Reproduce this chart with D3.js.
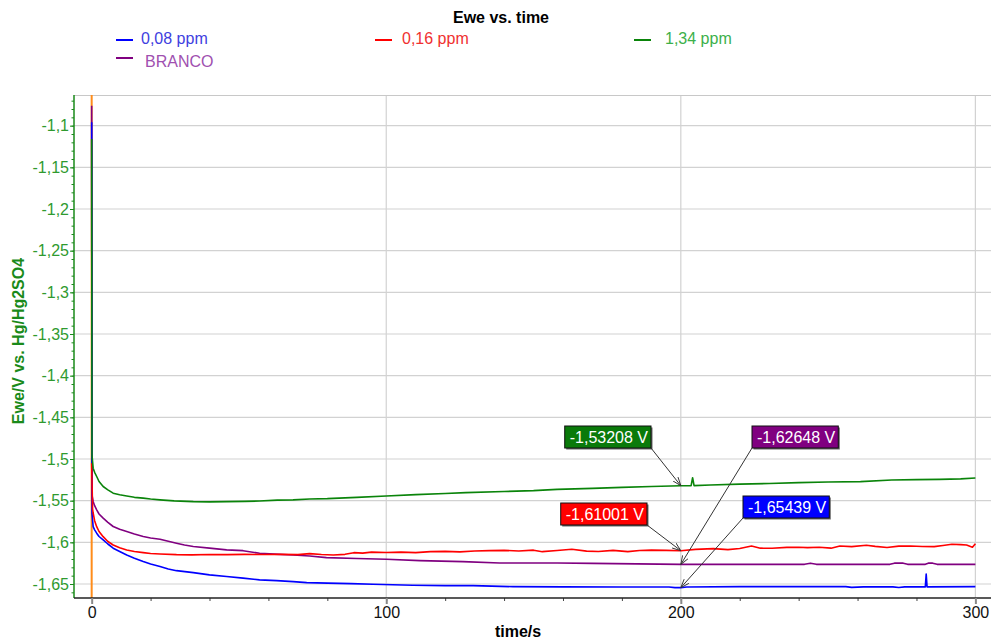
<!DOCTYPE html>
<html>
<head>
<meta charset="utf-8">
<script src="https://cdn.jsdelivr.net/npm/d3@7/dist/d3.min.js"></script>
<style>
  body { margin: 0; background: #fff; }
  svg { display: block; }
  text { font-family: "Liberation Sans", Arial, Helvetica, sans-serif; }
</style>
</head>
<body>
<svg id="chart" width="991" height="640"></svg>
<script>
// ---- chart text ----
const chartTitle = "Ewe vs. time";
const xTitle = "time/s";
const yTitle = "Ewe/V vs. Hg/Hg2SO4";

// ---- axis ticks ----
const xTicks = [0, 100, 200, 300];
const xTickLabels = ["0", "100", "200", "300"];
const yTicks = [-1.1, -1.15, -1.2, -1.25, -1.3, -1.35, -1.4, -1.45, -1.5, -1.55, -1.6, -1.65];
const yTickLabels = ["-1,1", "-1,15", "-1,2", "-1,25", "-1,3", "-1,35", "-1,4", "-1,45", "-1,5", "-1,55", "-1,6", "-1,65"];

// ---- series: 0,08 ppm ----
const blueTime = [0, 0.1, 0.5, 1, 1.7, 2.5, 3.9, 5.5, 7.3, 9.5, 11.9, 14.5, 17.5, 20, 23.2, 26, 28.8, 34.5, 40, 45.8, 51.4, 57, 62.8, 68.4, 73, 80, 88, 95.5, 109, 120, 129.5, 143, 160, 180, 196, 198, 200, 202, 220, 240, 256, 258, 262, 272, 274, 276, 283, 283.3, 283.6, 300];
const blueVolt = [-1.096, -1.565, -1.5812, -1.585, -1.589, -1.593, -1.597, -1.602, -1.607, -1.611, -1.6152, -1.619, -1.623, -1.626, -1.629, -1.632, -1.634, -1.6364, -1.639, -1.641, -1.643, -1.645, -1.646, -1.6472, -1.6484, -1.649, -1.6496, -1.6503, -1.6515, -1.652, -1.652, -1.6532, -1.6534, -1.6536, -1.6536, -1.6544, -1.65439, -1.6536, -1.6532, -1.6532, -1.6532, -1.654, -1.6534, -1.6534, -1.6542, -1.6534, -1.6534, -1.638, -1.6534, -1.6532];

// ---- series: 0,16 ppm ----
const redTime = [0, 0.3, 0.5, 1, 1.7, 2.5, 3.9, 5.5, 7.3, 9.5, 11.9, 14.5, 17.5, 20, 23.2, 28.8, 34, 40, 46, 52, 58, 64, 70, 74, 78, 82, 86, 89, 92, 95, 100, 105, 110, 115, 120, 125, 130, 135, 140, 145, 150, 153, 158, 163, 168, 172, 177, 182, 186, 190, 195, 200, 205, 211, 216, 220, 224, 227, 231, 236, 240, 243, 247, 251, 254, 258, 263, 266, 270, 274, 278, 282, 286, 289, 292, 295, 297, 299, 300];
const redVolt = [-1.505, -1.56, -1.5648, -1.574, -1.5812, -1.587, -1.5932, -1.599, -1.6032, -1.6066, -1.6092, -1.611, -1.6124, -1.6134, -1.614, -1.6148, -1.615, -1.6146, -1.6148, -1.6144, -1.6146, -1.6144, -1.6148, -1.6136, -1.6146, -1.6152, -1.6144, -1.6124, -1.613, -1.6118, -1.6122, -1.6118, -1.6124, -1.6112, -1.6108, -1.6114, -1.6104, -1.61, -1.6096, -1.6104, -1.6094, -1.6112, -1.6098, -1.6083, -1.6106, -1.611, -1.6096, -1.6112, -1.6098, -1.6094, -1.6096, -1.61001, -1.6084, -1.6076, -1.6088, -1.6074, -1.6044, -1.607, -1.6071, -1.606, -1.6059, -1.6064, -1.6059, -1.607, -1.6044, -1.6052, -1.6035, -1.6048, -1.6062, -1.6046, -1.6044, -1.605, -1.6052, -1.6038, -1.6023, -1.6028, -1.6032, -1.6059, -1.6016];

// ---- series: 1,34 ppm ----
const greenTime = [0, 0.1, 0.5, 1, 1.7, 2.5, 3.9, 5.5, 7.3, 9.5, 11.9, 14.5, 17.5, 20, 23.2, 28, 34.5, 40, 45.8, 52, 57, 63, 68.4, 74, 80, 90, 100, 110, 120, 127, 140, 150, 158, 170, 180, 190, 200, 203.5, 204, 204.5, 210, 220, 230, 240, 250, 261, 271.6, 280, 287.8, 295, 300];
const greenVolt = [-1.116, -1.495, -1.511, -1.516, -1.521, -1.527, -1.533, -1.537, -1.541, -1.543, -1.5444, -1.546, -1.547, -1.548, -1.549, -1.5502, -1.5512, -1.5514, -1.5512, -1.5508, -1.5504, -1.5494, -1.549, -1.548, -1.5476, -1.546, -1.5444, -1.5428, -1.5414, -1.5404, -1.539, -1.538, -1.5364, -1.5352, -1.534, -1.533, -1.53208, -1.532, -1.5225, -1.532, -1.5312, -1.5302, -1.5294, -1.5284, -1.5276, -1.5272, -1.5252, -1.5248, -1.5244, -1.5238, -1.5228];

// ---- series: BRANCO ----
const purpleTime = [0, 0.1, 0.5, 1, 1.7, 2.5, 3.9, 5.5, 7.3, 9.5, 11.9, 14.5, 17.5, 20, 23.2, 26, 28.8, 31.5, 34.5, 40, 45.8, 51.4, 57, 62, 68.4, 74, 79.7, 90, 100, 111.4, 126, 138.5, 150, 158, 170, 185, 200, 215, 235, 242, 244, 246, 271, 272.5, 275.5, 277, 283, 284, 285.5, 287, 300];
const purpleVolt = [-1.076, -1.543, -1.551, -1.556, -1.561, -1.566, -1.571, -1.576, -1.581, -1.5844, -1.587, -1.59, -1.593, -1.5948, -1.5963, -1.5986, -1.601, -1.6032, -1.605, -1.607, -1.609, -1.61, -1.6132, -1.6142, -1.6152, -1.6164, -1.6184, -1.6194, -1.6203, -1.622, -1.6232, -1.6248, -1.6248, -1.6248, -1.6252, -1.6258, -1.62648, -1.6264, -1.6264, -1.6264, -1.625, -1.6264, -1.6264, -1.625, -1.625, -1.6264, -1.6264, -1.625, -1.625, -1.6264, -1.6264];

// time at which the values are read out in the callout boxes
const readoutTime = 200;

// ---- styling / layout ----
const plot = { left: 74, right: 991, top: 95, bottom: 598 };

const series = [
  { name: "BRANCO",   t: purpleTime, v: purpleVolt, line: "#800080", text: "#a050b0", box: "#800080" },
  { name: "0,08 ppm", t: blueTime,   v: blueVolt,   line: "#0000ff", text: "#4040e0", box: "#0000ff" },
  { name: "0,16 ppm", t: redTime,    v: redVolt,    line: "#ff0000", text: "#f03030", box: "#ff0000" },
  { name: "1,34 ppm", t: greenTime,  v: greenVolt,  line: "#0a840a", text: "#3cb04a", box: "#0a7a0a" }
];
const byName = Object.fromEntries(series.map(s => [s.name, s]));

const legendLayout = [
  { name: "0,08 ppm", x: 116, y: 40, tx: 25, ty: 43.5 },
  { name: "0,16 ppm", x: 375, y: 40, tx: 27, ty: 43.5 },
  { name: "1,34 ppm", x: 634, y: 40, tx: 31, ty: 43.5 },
  { name: "BRANCO",   x: 116, y: 58, tx: 29, ty: 66.5 }
];

// callout box corner positions (px); the arrow leaves from the corner nearest the point
const calloutLayout = [
  { name: "1,34 ppm", cornerX: 651, bottom: 448, side: "left" },
  { name: "BRANCO",   cornerX: 752, bottom: 448, side: "right" },
  { name: "0,16 ppm", cornerX: 647, bottom: 525, side: "left" },
  { name: "0,08 ppm", cornerX: 743, bottom: 518, side: "right" }
];

const svg = d3.select("#chart");

const x = d3.scaleLinear().domain([-6, 305.3]).range([plot.left, plot.right]);
const y = d3.scaleLinear().domain([-1.6668, -1.0632]).range([plot.bottom, plot.top]);

// clip region for curves
const defs = svg.append("defs");
defs.append("clipPath").attr("id", "plotClip")
  .append("rect").attr("x", plot.left).attr("y", plot.top)
  .attr("width", plot.right - plot.left).attr("height", plot.bottom - plot.top);

// open arrowhead for callouts
defs.append("marker")
  .attr("id", "arrowHead").attr("viewBox", "0 -4 10 8")
  .attr("refX", 9.5).attr("refY", 0)
  .attr("markerWidth", 9).attr("markerHeight", 8)
  .attr("markerUnits", "userSpaceOnUse")
  .attr("orient", "auto")
  .append("path").attr("d", "M0,-3.5L9.5,0L0,3.5")
  .attr("fill", "none").attr("stroke", "#333").attr("stroke-width", 1);

// ---- grid ----
const grid = svg.append("g");
grid.selectAll("line.hg").data(yTicks).join("line")
  .attr("x1", plot.left).attr("x2", plot.right)
  .attr("y1", d => y(d)).attr("y2", d => y(d))
  .attr("stroke", "#d2d2d2").attr("stroke-width", 1.2);
grid.selectAll("line.vg").data(xTicks.filter(d => d > 0)).join("line")
  .attr("x1", d => x(d)).attr("x2", d => x(d))
  .attr("y1", plot.top).attr("y2", plot.bottom)
  .attr("stroke", "#d2d2d2").attr("stroke-width", 1.2);
// top frame
grid.append("line")
  .attr("x1", plot.left).attr("x2", plot.right)
  .attr("y1", plot.top + 0.5).attr("y2", plot.top + 0.5)
  .attr("stroke", "#c8c8c8").attr("stroke-width", 1);

// vertical cursor at t = 0
svg.append("line")
  .attr("x1", x(0)).attr("x2", x(0))
  .attr("y1", plot.top).attr("y2", plot.bottom)
  .attr("stroke", "#ff8c1a").attr("stroke-width", 2);

// ---- curves ----
const lineGen = d3.line().x(d => x(d[0])).y(d => y(d[1]));
const curves = svg.append("g").attr("clip-path", "url(#plotClip)");
series.forEach(s => {
  const pts = s.t.map((t, i) => [t, s.v[i]]);
  curves.append("path").datum(pts)
    .attr("d", lineGen)
    .attr("fill", "none")
    .attr("stroke", s.line)
    .attr("stroke-width", 1.6)
    .attr("stroke-linejoin", "round");
});

// ---- axes ----
const yAxisMinor = d3.axisLeft(y)
  .tickValues(d3.range(-1.07, -1.665, -0.01).map(v => +v.toFixed(2)))
  .tickSize(2.5).tickFormat("");
svg.append("g").attr("transform", `translate(${plot.left},0)`).call(yAxisMinor)
  .call(g => g.select(".domain").remove())
  .call(g => g.selectAll("line").attr("stroke", "#1a8a1a"));

const yAxis = d3.axisLeft(y).tickValues(yTicks).tickSize(4).tickPadding(1)
  .tickFormat((d, i) => yTickLabels[i]);
svg.append("g").attr("transform", `translate(${plot.left},0)`).call(yAxis)
  .call(g => g.select(".domain").attr("stroke", "#1a8a1a").attr("stroke-width", 1.5)
    .attr("d", `M0,${plot.top}V${plot.bottom}`))
  .call(g => g.selectAll(".tick line").attr("stroke", "#1a8a1a"))
  .call(g => g.selectAll(".tick text").attr("fill", "#2f9a2f")
    .style("font-size", "16px").style("font-family", '"Liberation Sans", Arial, sans-serif'));

const xAxisMinor = d3.axisBottom(x).tickValues(d3.range(20, 300, 20)).tickSize(3).tickFormat("");
svg.append("g").attr("transform", `translate(0,${plot.bottom})`).call(xAxisMinor)
  .call(g => g.select(".domain").remove())
  .call(g => g.selectAll("line").attr("stroke", "#444"));

const xAxis = d3.axisBottom(x).tickValues(xTicks).tickSize(6).tickPadding(3)
  .tickFormat((d, i) => xTickLabels[i]);
svg.append("g").attr("transform", `translate(0,${plot.bottom})`).call(xAxis)
  .call(g => g.select(".domain").attr("stroke", "#222").attr("stroke-width", 1.5)
    .attr("d", `M${plot.left},0H${plot.right}`))
  .call(g => g.selectAll(".tick line").attr("stroke", "#888").attr("stroke-width", 2))
  .call(g => g.selectAll(".tick text").attr("fill", "#111")
    .style("font-size", "16px").style("font-family", '"Liberation Sans", Arial, sans-serif'));

// ---- titles ----
svg.append("text").attr("x", 501).attr("y", 23)
  .attr("text-anchor", "middle").style("font-size", "16px").style("font-weight", "bold")
  .attr("fill", "#000").text(chartTitle);

svg.append("text").attr("x", 518).attr("y", 637)
  .attr("text-anchor", "middle").style("font-size", "16px").style("font-weight", "bold")
  .attr("fill", "#000").text(xTitle);

svg.append("text").attr("transform", "translate(24,341) rotate(-90)")
  .attr("text-anchor", "middle").style("font-size", "16px").style("font-weight", "bold")
  .attr("fill", "#1a8a1a").text(yTitle);

// ---- legend ----
const legend = svg.append("g");
legendLayout.forEach(l => {
  const s = byName[l.name];
  legend.append("line").attr("x1", l.x).attr("x2", l.x + 17)
    .attr("y1", l.y).attr("y2", l.y)
    .attr("stroke", s.line).attr("stroke-width", 2);
  legend.append("text").attr("x", l.x + l.tx).attr("y", l.ty)
    .style("font-size", "16px").attr("fill", s.text).text(s.name);
});

// ---- value callouts at the readout time ----
const callouts = svg.append("g");
calloutLayout.forEach(c => {
  const s = byName[c.name];
  const idx = s.t.indexOf(readoutTime);
  const val = s.v[idx];
  const label = val.toFixed(5).replace(".", ",") + " V";
  const px = x(readoutTime), py = y(val);

  const g = callouts.append("g");
  const txt = g.append("text").style("font-size", "16px").attr("fill", "#fff").text(label);
  const tw = txt.node().getComputedTextLength();
  const bw = tw + 8, bh = 22;
  const bx = c.side === "left" ? c.cornerX - bw : c.cornerX;
  const by = c.bottom - bh;

  g.insert("rect", "text").attr("x", bx + 1.5).attr("y", by + 1.5).attr("width", bw).attr("height", bh)
    .attr("fill", "#666");
  g.insert("rect", "text").attr("x", bx).attr("y", by).attr("width", bw).attr("height", bh)
    .attr("fill", s.box).attr("stroke", "#111").attr("stroke-width", 1);
  txt.attr("x", bx + 5).attr("y", by + 17);

  const cx = c.side === "left" ? bx + bw : bx;
  const cy = by + bh;
  callouts.append("line")
    .attr("x1", cx).attr("y1", cy).attr("x2", px).attr("y2", py)
    .attr("stroke", "#333").attr("stroke-width", 1)
    .attr("marker-end", "url(#arrowHead)");
});
</script>
</body>
</html>
